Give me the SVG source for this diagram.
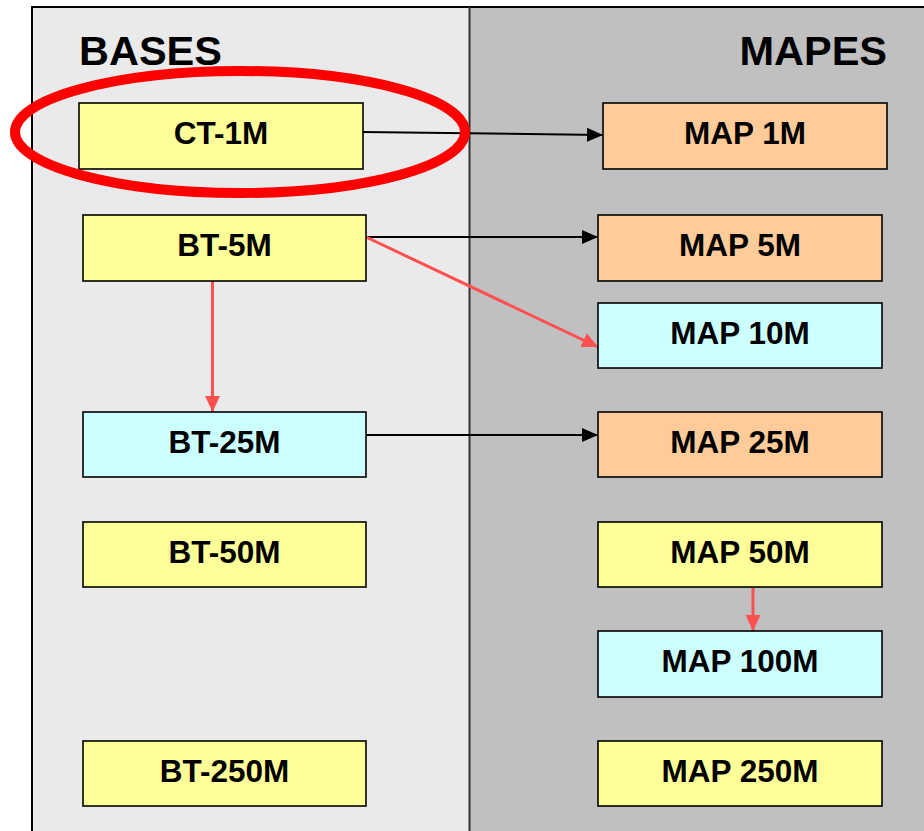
<svg xmlns="http://www.w3.org/2000/svg" width="924" height="831" viewBox="0 0 924 831">
<defs>
<style>
.box{stroke:#000;stroke-width:1.6}
.y{fill:#FFFF99}.o{fill:#FFCC99}.c{fill:#CCFFFF}
.lbl{font-family:"Liberation Sans",Arial,sans-serif;font-weight:bold;font-size:31.5px;text-anchor:middle;fill:#000}
.title{font-family:"Liberation Sans",Arial,sans-serif;font-weight:bold;font-size:41.5px;fill:#000}
.blk{stroke:#000;stroke-width:2;fill:none}
.red{stroke:#FF5050;stroke-width:3;fill:none}
</style>
<marker id="ab" markerUnits="userSpaceOnUse" markerWidth="16" markerHeight="16" viewBox="0 0 16 16" refX="16" refY="8" orient="auto"><path d="M0,1 L16,8 L0,15 Z" fill="#000"/></marker>
<marker id="ar" markerUnits="userSpaceOnUse" markerWidth="16" markerHeight="16" viewBox="0 0 16 16" refX="16" refY="8" orient="auto"><path d="M0,0.5 L16,8 L0,15.5 Z" fill="#FF5050"/></marker>
</defs>
<g id="background">
<rect x="32" y="7" width="437.5" height="830" fill="#EAEAEA"/>
<rect x="469.5" y="7" width="460" height="830" fill="#C0C0C0"/>
<path d="M32,831 L32,7 L924,7" fill="none" stroke="#000" stroke-width="2"/>
<line x1="469.5" y1="7" x2="469.5" y2="831" stroke="#333" stroke-width="2"/>
<text class="title" x="79" y="65">BASES</text>
<text class="title" x="887" y="65" text-anchor="end">MAPES</text>
</g>
<g id="connectors">
<line class="blk" x1="363" y1="132" x2="603" y2="135" marker-end="url(#ab)"/>
<line class="blk" x1="366" y1="237" x2="598" y2="237" marker-end="url(#ab)"/>
<line class="red" x1="366" y1="237" x2="598" y2="347" marker-end="url(#ar)"/>
<line class="red" x1="212.5" y1="281" x2="212.5" y2="412" marker-end="url(#ar)"/>
<line class="blk" x1="366" y1="435" x2="598" y2="435" marker-end="url(#ab)"/>
<line class="red" x1="753" y1="588" x2="753" y2="631" marker-end="url(#ar)"/>
</g>
<g id="ct1m"><rect class="box y" x="79" y="103" width="284" height="66"/><text class="lbl" x="221" y="144">CT-1M</text></g>
<g id="map1m"><rect class="box o" x="603" y="103" width="284" height="66"/><text class="lbl" x="745" y="144">MAP 1M</text></g>
<g id="bt5m"><rect class="box y" x="83" y="215" width="283" height="66"/><text class="lbl" x="224.5" y="256">BT-5M</text></g>
<g id="map5m"><rect class="box o" x="598" y="215" width="284" height="66"/><text class="lbl" x="740" y="256">MAP 5M</text></g>
<g id="map10m"><rect class="box c" x="598" y="303" width="284" height="65"/><text class="lbl" x="740" y="344">MAP 10M</text></g>
<g id="bt25m"><rect class="box c" x="83" y="412" width="283" height="65"/><text class="lbl" x="224.5" y="453">BT-25M</text></g>
<g id="map25m"><rect class="box o" x="598" y="412" width="284" height="65"/><text class="lbl" x="740" y="453">MAP 25M</text></g>
<g id="bt50m"><rect class="box y" x="83" y="522" width="283" height="65"/><text class="lbl" x="224.5" y="563">BT-50M</text></g>
<g id="map50m"><rect class="box y" x="598" y="522" width="284" height="65"/><text class="lbl" x="740" y="563">MAP 50M</text></g>
<g id="map100m"><rect class="box c" x="598" y="631" width="284" height="66"/><text class="lbl" x="740" y="672">MAP 100M</text></g>
<g id="bt250m"><rect class="box y" x="83" y="741" width="283" height="65"/><text class="lbl" x="224.5" y="782">BT-250M</text></g>
<g id="map250m"><rect class="box y" x="598" y="741" width="284" height="65"/><text class="lbl" x="740" y="782">MAP 250M</text></g>
<g id="highlight"><ellipse cx="240" cy="132" rx="225" ry="61" fill="none" stroke="#FF0000" stroke-width="10"/></g>
</svg>
